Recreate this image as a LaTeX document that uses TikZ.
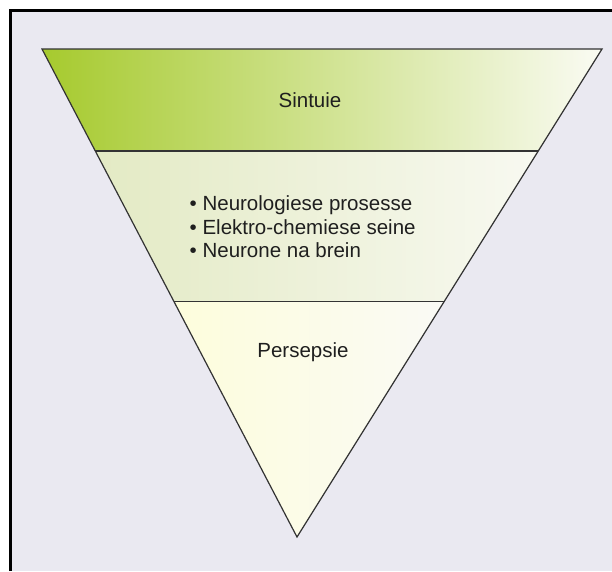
\documentclass[tikz,border=0pt]{standalone}
\usepackage{fontspec}
\setmainfont{Liberation Sans}
\usetikzlibrary{calc}

\definecolor{panelgrey}{HTML}{EAE9F1}
\definecolor{topleft}{HTML}{A6CA2E}
\definecolor{topmid}{HTML}{CDE29A}
\definecolor{topright}{HTML}{FAFBF3}
\definecolor{midleft}{HTML}{E3EAC4}
\definecolor{midright}{HTML}{F8F9F1}
\definecolor{lowleft}{HTML}{FDFDDC}
\definecolor{lowright}{HTML}{FAFAF5}

\begin{document}
\begin{tikzpicture}[x=1pt, y=-1pt,
	band/.style={draw=black!80, line width=1.2pt, line join=miter},
	label/.style={font=\fontsize{20.5}{23.5}\selectfont, text=black!88, inner sep=0pt},
	]
	\useasboundingbox (0,0) rectangle (612,571);
	\fill[white] (0,0) rectangle (612,571);
	\fill[panelgrey] (10.5,10.5) rectangle (612,571);
	\draw[line width=3pt] (10.5,571) -- (10.5,10.5) -- (612,10.5);
	
	\coordinate (tl) at (42,49);
	\coordinate (tr) at (602,49);
	\coordinate (apex) at (297,537);
	\coordinate (al) at ($(tl)!0.209!(apex)$);
	\coordinate (ar) at ($(tr)!0.209!(apex)$);
	\coordinate (bl) at ($(tl)!0.518!(apex)$);
	\coordinate (br) at ($(tr)!0.518!(apex)$);
	
	\shade[left color=topleft, middle color=topmid, right color=topright] (tl) -- (tr) -- (ar) -- (al) -- cycle;
	\shade[left color=midleft, right color=midright] (al) -- (ar) -- (br) -- (bl) -- cycle;
	\shade[left color=lowleft, right color=lowright] (bl) -- (br) -- (apex) -- cycle;
	
	\draw[band] (tl) -- (tr) -- (apex) -- cycle;
	\draw[band] (al) -- (ar);
	\draw[band] (bl) -- (br);
	
	\node[label] at (310,100) (sintuie) {Sintuie};
	\node[label, anchor=west, align=left] at (189.5,227) (prosesse) {• Neurologiese prosesse\\• Elektro-chemiese seine\\• Neurone na brein};
	\node[label] at (303,352) (persepsie) {Persepsie};
\end{tikzpicture}
\end{document}
